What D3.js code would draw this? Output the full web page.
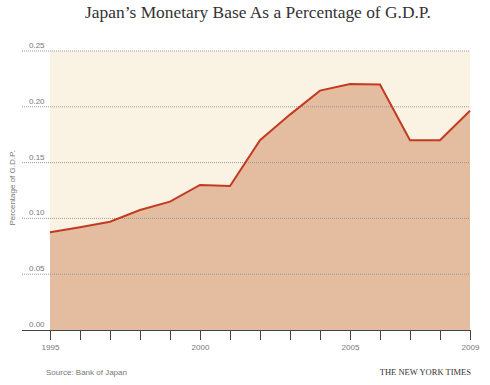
<!DOCTYPE html>
<html><head><meta charset="utf-8">
<script src="https://cdn.jsdelivr.net/npm/d3@7"></script>
<style>body{margin:0;background:#fff;}svg{display:block;}</style>
</head><body>
<script>
const years = [1995,1996,1997,1998,1999,2000,2001,2002,2003,2004,2005,2006,2007,2008,2009];
const values = [0.0875,0.092,0.097,0.1075,0.115,0.130,0.129,0.170,0.193,0.2145,0.2205,0.220,0.170,0.170,0.1965];
const yTicks = [0,0.05,0.10,0.15,0.20,0.25];
const xTickLabels = [1995,2000,2005,2009];

const W=490,H=385;
const svg=d3.select("body").append("svg").attr("width",W).attr("height",H);
const x=d3.scaleLinear().domain([1995,2009]).range([50,470]);
const y=d3.scaleLinear().domain([0,0.25]).range([330,51]);

svg.append("text").attr("x",258).attr("y",18).attr("text-anchor","middle")
 .attr("font-family","'Liberation Serif','DejaVu Serif',serif").attr("font-size",17.4).attr("fill","#333")
 .text("Japan\u2019s Monetary Base As a Percentage of G.D.P.");

svg.append("rect").attr("x",x(1995)).attr("y",y(0.25)).attr("width",x(2009)-x(1995)).attr("height",y(0)-y(0.25)).attr("fill","#faf3e4");

const area=d3.area().x((d,i)=>x(years[i])).y0(y(0)).y1(d=>y(d));
svg.append("path").datum(values).attr("d",area).attr("fill","#e4bda1");

const grid=svg.append("g");
yTicks.filter(t=>t>0).forEach(t=>{
  grid.append("line").attr("x1",22).attr("x2",470).attr("y1",y(t)).attr("y2",y(t))
   .attr("stroke","#999").attr("stroke-width",1).attr("stroke-dasharray","1,1");
});
yTicks.forEach(t=>{
  svg.append("text").attr("x",29).attr("y",y(t)-3).attr("font-family","'Liberation Sans',Arial,sans-serif")
   .attr("font-size",8).attr("fill","#777").text(d3.format(".2f")(t));
});

const line=d3.line().x((d,i)=>x(years[i])).y(d=>y(d));
svg.append("path").datum(values).attr("d",line).attr("fill","none").attr("stroke","#c43a20").attr("stroke-width",2).attr("stroke-linejoin","miter");

const xAxis=d3.axisBottom(x).tickValues(years).tickSize(10).tickFormat(d=>xTickLabels.includes(d)?d:"");
const gx=svg.append("g").attr("transform",`translate(0,${y(0)})`).call(xAxis);
gx.select(".domain").remove();
gx.selectAll(".tick line").attr("stroke","#444").attr("stroke-width",1);
gx.selectAll(".tick text").attr("font-family","'Liberation Sans',Arial,sans-serif").attr("font-size",8).attr("fill","#777").attr("dy","0.9em");
svg.append("line").attr("x1",22).attr("x2",470).attr("y1",y(0)+0.5).attr("y2",y(0)+0.5).attr("stroke","#444").attr("stroke-width",1.2);

svg.append("text").attr("transform","translate(15,188) rotate(-90)").attr("text-anchor","middle")
 .attr("font-family","'Liberation Sans',Arial,sans-serif").attr("font-size",8).attr("fill","#777").text("Percentage of G.D.P.");

svg.append("text").attr("x",46).attr("y",375).attr("font-family","'Liberation Sans',Arial,sans-serif")
 .attr("font-size",8).attr("fill","#777").text("Source: Bank of Japan");
svg.append("text").attr("x",471).attr("y",375).attr("text-anchor","end").attr("font-family","'Liberation Serif',serif")
 .attr("font-size",8.5).attr("fill","#333").text("THE NEW YORK TIMES");
</script>
</body></html>
